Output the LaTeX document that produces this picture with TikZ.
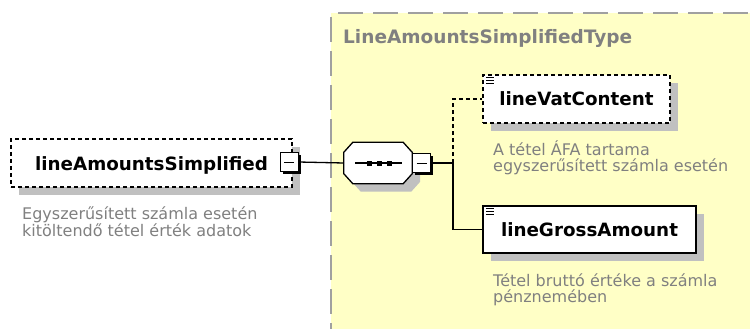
\documentclass[tikz,border=0pt]{standalone}
\usepackage{fontspec}
\setmainfont{DejaVu Sans}
\usetikzlibrary{calc,shadows}
\definecolor{ybg}{RGB}{255,255,198}
\definecolor{bordergray}{RGB}{160,160,160}
\definecolor{shgray}{RGB}{192,192,192}
\definecolor{txtgray}{RGB}{128,128,128}
\tikzset{
  elbox/.style={draw=black, fill=white, line width=1.3pt, inner sep=0pt,
    minimum height=48pt, text height=14pt, text depth=0pt,
    font=\fontsize{18.3}{22}\selectfont\bfseries,
    drop shadow={shadow xshift=8pt, shadow yshift=-8pt, fill=shgray, opacity=1}},
  optbox/.style={elbox, dash pattern=on 4pt off 3pt},
  desc/.style={anchor=base west, align=left, inner sep=0pt, text=txtgray,
    font=\fontsize{16}{16}\selectfont},
  minusbox/.style={draw=black, fill=white, line width=1pt, inner sep=0pt,
    minimum width=18pt, minimum height=19pt,
    drop shadow={shadow xshift=2.5pt, shadow yshift=-2.5pt, fill=black, opacity=1}},
  link/.style={line width=1.3pt, black},
  optlink/.style={link, dash pattern=on 4pt off 3pt},
}
\newcommand\octpath[2]{([xshift=#1+9pt,yshift=-#2]seq.north west) -- ([xshift=#1-9pt,yshift=-#2]seq.north east) -- ([xshift=#1,yshift=-#2-10pt]seq.north east) -- ([xshift=#1,yshift=-#2+10pt]seq.south east) -- ([xshift=#1-9pt,yshift=-#2]seq.south east) -- ([xshift=#1+9pt,yshift=-#2]seq.south west) -- ([xshift=#1,yshift=-#2+10pt]seq.south west) -- ([xshift=#1,yshift=-#2-10pt]seq.north west) -- cycle}
\begin{document}
\begin{tikzpicture}[x=1pt,y=-1pt]
\useasboundingbox[fill=white] (0,0) rectangle (750,329);
% type area
\fill[ybg] (331,13) rectangle (750,329);
\draw[bordergray, line width=2pt, dash pattern=on 25pt off 10pt] (338,13) -- (750,13);
\draw[bordergray, line width=2pt, dash pattern=on 25pt off 9pt] (331,17) -- (331,329);
\node[anchor=base west, inner sep=0pt, text=txtgray, font=\fontsize{18.5}{22}\selectfont\bfseries] (title) at (343,44) {LineAmountsSimplifiedType};
% root element
\node[optbox, minimum width=281pt] (root) at (151.5,163) {lineAmountsSimplified\hspace{10pt}};
\node[minusbox] (rm) at (289,162) {};
\draw[line width=1pt] ([xshift=-5pt]rm.center) -- ([xshift=5pt]rm.center);
\node[desc] (rootdesc) at (22,236.7) {Egyszerűsített számla esetén\\kitöltendő tétel érték adatok};
% sequence compositor
\node[minimum width=68pt, minimum height=41pt, inner sep=0pt] (seq) at (378,163) {};
\fill[shgray] \octpath{8pt}{8pt};
\filldraw[fill=white, draw=black, line width=1.3pt] \octpath{0pt}{0pt};
\draw[line width=1.3pt] ([xshift=-23pt]seq.center) -- ([xshift=24pt]seq.center);
\foreach \dx in {-9,1,11} \fill ([xshift=\dx pt]seq.center) +(-2.5,-2.5) rectangle +(2.5,2.5);
\node[minusbox] (sm) at (421.5,163) {};
\draw[line width=1pt] ([xshift=-5pt]sm.center) -- ([xshift=5pt]sm.center);
\draw[link] (rm.east) -- (seq.west);
% children
\node[optbox, minimum width=187pt] (vat) at (576.5,99) {lineVatContent};
\node[elbox, minimum width=213pt, minimum height=47pt] (gross) at (589.5,229.5) {lineGrossAmount};
\foreach \n in {vat,gross} \foreach \k in {0,3,6}
  \draw[line width=1pt] ($(\n.north west)+(3.5,3.5+\k)$) -- ++(8,0);
\coordinate (fork) at (453,163);
\draw[link] (sm.east) -- (fork);
\draw[optlink] (fork) |- (vat.west);
\draw[link] (fork) |- (gross.west);
\node[desc] (vatdesc) at (493,171) {A tétel ÁFA tartama\\egyszerűsített számla esetén};
\node[desc] (grossdesc) at (493,302) {Tétel bruttó értéke a számla\\pénznemében};
\end{tikzpicture}
\end{document}
